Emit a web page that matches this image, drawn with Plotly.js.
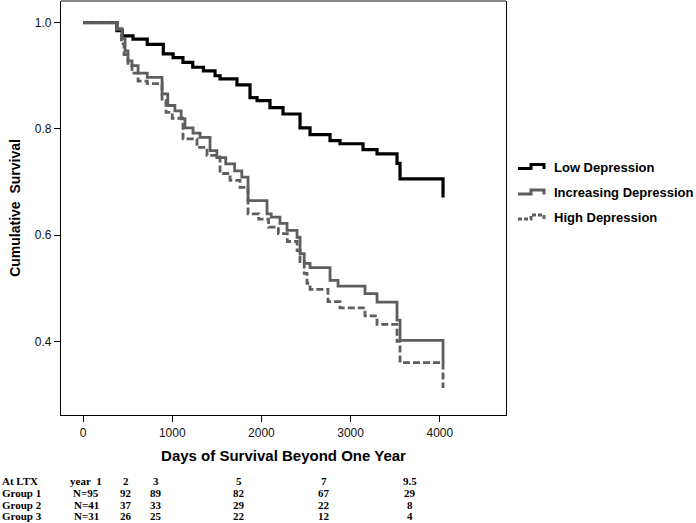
<!DOCTYPE html>
<html>
<head>
<meta charset="utf-8">
<script src="https://cdn.plot.ly/plotly-3.0.1.min.js"></script>
<style>html,body{margin:0;padding:0;background:#fff;}#chart{width:696px;height:523px;}</style>
</head>
<body>
<div id="chart"></div>
<script>
// ---- Data ----
var lowDays = [0, 380, 440, 560, 720, 900, 1010, 1120, 1230, 1350, 1480, 1536, 1726, 1872, 1951, 2096, 2242, 2433, 2545, 2769, 2881, 3139, 3296, 3520, 3554, 4036];
var lowSurv = [1.0, 0.985, 0.975, 0.969, 0.959, 0.941, 0.934, 0.925, 0.916, 0.909, 0.900, 0.894, 0.883, 0.859, 0.853, 0.840, 0.828, 0.802, 0.789, 0.778, 0.772, 0.761, 0.753, 0.735, 0.706, 0.671];

var incDays = [0, 381, 440, 471, 504, 549, 617, 720, 886, 950, 1030, 1100, 1143, 1233, 1312, 1424, 1500, 1600, 1700, 1780, 1850, 2063, 2110, 2208, 2287, 2399, 2433, 2480, 2545, 2769, 2859, 3161, 3296, 3520, 3554, 4036];
var incSurv = [1.0, 0.988, 0.970, 0.947, 0.928, 0.919, 0.905, 0.897, 0.866, 0.844, 0.834, 0.819, 0.802, 0.792, 0.784, 0.759, 0.746, 0.734, 0.721, 0.709, 0.665, 0.640, 0.634, 0.622, 0.609, 0.596, 0.565, 0.547, 0.539, 0.515, 0.504, 0.490, 0.474, 0.440, 0.402, 0.360];

var highDays = [0, 381, 430, 460, 504, 549, 617, 720, 886, 930, 1000, 1121, 1278, 1390, 1536, 1648, 1760, 1850, 1970, 2080, 2190, 2290, 2400, 2433, 2480, 2511, 2545, 2746, 2881, 3161, 3296, 3520, 3554, 4036];
var highSurv = [1.0, 0.988, 0.960, 0.940, 0.920, 0.905, 0.890, 0.885, 0.853, 0.831, 0.820, 0.781, 0.765, 0.750, 0.716, 0.703, 0.690, 0.640, 0.630, 0.615, 0.603, 0.588, 0.571, 0.550, 0.528, 0.509, 0.498, 0.475, 0.463, 0.448, 0.432, 0.400, 0.360, 0.312];

var seriesNames = ["Low Depression", "Increasing Depression", "High Depression"];

var yTickVals = [0.4, 0.6, 0.8, 1.0];
var xTickVals = [0, 1000, 2000, 3000, 4000];

var tableHeader = ["At LTX", "year  1", "2", "3", "5", "7", "9.5"];
var tableGroup1 = ["Group 1", "N=95", "92", "89", "82", "67", "29"];
var tableGroup2 = ["Group 2", "N=41", "37", "33", "29", "22", "8"];
var tableGroup3 = ["Group 3", "N=31", "26", "25", "22", "12", "4"];

// ---- Styling / layout ----
var W = 696, H = 523;
var M = {l: 61, r: 190, t: 1, b: 108};
var plotW = W - M.l - M.r, plotH = H - M.t - M.b;
function px(x) { return (x - M.l) / plotW; }
function py(y) { return (H - M.b - y) / plotH; }

var grey = "#5e5e5e";
var styles = [
  {color: "#000000", width: 3.2, dash: "solid"},
  {color: grey, width: 2.8, dash: "solid"},
  {color: grey, width: 2.8, dash: "7px,3px"}
];

var xs = [lowDays, incDays, highDays];
var ys = [lowSurv, incSurv, highSurv];
var traces = xs.map(function (xv, i) {
  return {
    x: xv, y: ys[i], type: "scatter", mode: "lines", name: seriesNames[i],
    line: {shape: "hv", color: styles[i].color, width: styles[i].width, dash: styles[i].dash},
    showlegend: false, hoverinfo: "skip"
  };
});

var shapes = [
  {type: "line", xref: "paper", yref: "paper", x0: 0, x1: 1, y0: 1, y1: 1, line: {color: "#888888", width: 2}}
];
var annotations = [];

// custom legend with step glyphs
var legendY = [167, 192.5, 217.5];
seriesNames.forEach(function (nm, i) {
  var c = legendY[i];
  var path = "M " + px(518) + "," + py(c + 1.5) + " L " + px(531) + "," + py(c + 1.5) +
             " L " + px(531) + "," + py(c - 2.5) + " L " + px(544) + "," + py(c - 2.5) +
             " L " + px(544) + "," + py(c + 2);
  shapes.push({type: "path", xref: "paper", yref: "paper", path: path,
    line: {color: styles[i].color, width: 3, dash: i === 2 ? "4px,2px" : "solid"}});
  annotations.push({xref: "paper", yref: "paper", x: px(552), y: py(c), xanchor: "left", yanchor: "middle",
    text: "<b>" + nm + "</b>", showarrow: false, font: {family: "Liberation Sans, Arial, sans-serif", size: 13, color: "#000"}});
});

// bottom table
var colX = [0, 86, 126, 156, 239, 324, 410];
var rowY = [481, 493, 505, 516];
var rows = [tableHeader, tableGroup1, tableGroup2, tableGroup3];
rows.forEach(function (row, r) {
  row.forEach(function (txt, c) {
    annotations.push({xref: "paper", yref: "paper", x: px(colX[c]), y: py(rowY[r]),
      xanchor: c === 0 ? "left" : "center", yanchor: "middle", text: "<b>" + txt.replace(/ /g, "&nbsp;") + "</b>", showarrow: false,
      font: {family: "Liberation Serif, Times New Roman, serif", size: 11, color: "#000"}});
  });
});

var layout = {
  width: W, height: H,
  margin: M,
  paper_bgcolor: "#fff", plot_bgcolor: "#fff",
  font: {family: "Liberation Sans, Arial, sans-serif", color: "#000"},
  xaxis: {
    range: [-247, 4742], tickvals: xTickVals, ticks: "outside", ticklen: 6, tickwidth: 1, tickcolor: "#000",
    showline: true, linecolor: "#000", linewidth: 1.2, showgrid: false, zeroline: false,
    tickfont: {size: 12, color: "#111"},
    title: {text: "<b>Days of Survival Beyond One Year</b>", font: {size: 15, color: "#000"}, standoff: 12}
  },
  yaxis: {
    range: [0.2614, 1.0407], tickvals: yTickVals, tickformat: ".1f", ticks: "outside", ticklen: 6, tickwidth: 1, tickcolor: "#000",
    showline: true, mirror: true, linecolor: "#000", linewidth: 1.2, showgrid: false, zeroline: false,
    tickfont: {size: 12, color: "#111"},
    title: {text: "<b>Cumulative&nbsp;&nbsp;Survival</b>", font: {size: 14, color: "#000"}, standoff: 10}
  },
  shapes: shapes,
  annotations: annotations,
  showlegend: false
};

Plotly.newPlot("chart", traces, layout, {displayModeBar: false, staticPlot: true});
</script>
</body>
</html>
